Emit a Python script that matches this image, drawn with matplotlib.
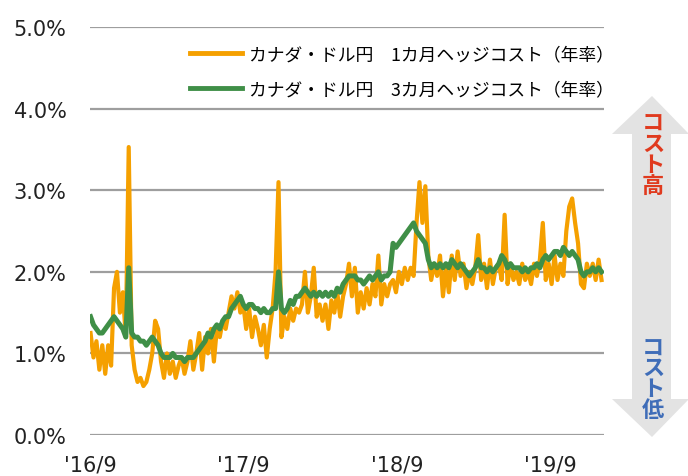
import pandas as pd
import matplotlib.pyplot as plt
from matplotlib.patches import Polygon

plt.rcParams['font.family'] = ['DejaVu Sans', 'Noto Sans CJK JP']

# weekly readings, starting 2016/9/1 (%)
dates = pd.date_range("2016-09-01", periods=175, freq="7D")

hedge_1m = [
    1.25, 0.95, 1.15, 0.80, 1.10, 0.75, 1.10, 0.85, 1.80, 2.00,
    1.50, 1.75, 1.20, 3.53, 1.10, 0.80, 0.65, 0.70, 0.60, 0.65,
    0.80, 1.00, 1.40, 1.30, 0.90, 0.70, 1.00, 0.75, 0.90, 0.70,
    0.85, 0.95, 0.75, 0.90, 1.15, 0.80, 1.00, 1.25, 0.80, 1.20,
    1.00, 1.30, 0.90, 1.30, 1.20, 1.40, 1.30, 1.50, 1.70, 1.55,
    1.75, 1.50, 1.60, 1.30, 1.55, 1.20, 1.45, 1.30, 1.10, 1.35,
    0.95, 1.30, 1.55, 2.00, 3.10, 1.20, 1.45, 1.30, 1.55, 1.40,
    1.55, 1.50, 1.60, 2.00, 1.50, 1.70, 2.05, 1.45, 1.60, 1.40,
    1.60, 1.30, 1.65, 1.50, 1.75, 1.45, 1.70, 1.85, 2.10, 1.70,
    2.05, 1.50, 1.75, 1.55, 1.80, 1.60, 1.85, 1.70, 2.20, 1.60,
    1.85, 1.70, 1.85, 1.90, 1.75, 2.00, 1.85, 2.05, 1.90, 2.05,
    1.95, 2.60, 3.10, 2.60, 3.05, 2.20, 1.90, 2.10, 1.95, 2.20,
    1.70, 2.05, 1.75, 2.20, 1.90, 2.25, 1.95, 2.10, 1.80, 2.00,
    1.85, 2.05, 2.45, 1.90, 2.10, 1.80, 2.15, 1.85, 2.05, 2.10,
    1.90, 2.70, 1.85, 2.10, 1.90, 2.00, 1.85, 2.10, 1.90, 2.00,
    1.85, 2.10, 1.95, 2.15, 2.60, 1.90, 2.10, 1.85, 2.20, 1.90,
    2.10, 1.95, 2.50, 2.80, 2.90, 2.60, 2.35, 1.85, 1.80, 2.10,
    1.95, 2.10, 1.90, 2.15, 1.90,
]

hedge_3m = [
    1.45, 1.35, 1.30, 1.25, 1.25, 1.30, 1.35, 1.40, 1.45, 1.40,
    1.35, 1.30, 1.20, 2.05, 1.25, 1.20, 1.20, 1.15, 1.15, 1.10,
    1.15, 1.20, 1.15, 1.10, 1.00, 0.95, 0.95, 0.95, 1.00, 0.95,
    0.95, 0.95, 0.90, 0.95, 0.95, 0.95, 1.00, 1.05, 1.10, 1.15,
    1.25, 1.20, 1.30, 1.35, 1.30, 1.40, 1.45, 1.45, 1.55, 1.60,
    1.65, 1.70, 1.60, 1.55, 1.60, 1.60, 1.55, 1.55, 1.50, 1.55,
    1.50, 1.50, 1.55, 1.55, 2.00, 1.55, 1.50, 1.55, 1.65, 1.60,
    1.70, 1.70, 1.75, 1.80, 1.75, 1.70, 1.75, 1.70, 1.75, 1.70,
    1.75, 1.70, 1.75, 1.70, 1.80, 1.75, 1.85, 1.90, 1.95, 1.95,
    1.95, 1.90, 1.90, 1.85, 1.90, 1.95, 1.90, 1.95, 2.00, 1.90,
    1.95, 1.95, 2.00, 2.35, 2.30, 2.35, 2.40, 2.45, 2.50, 2.55,
    2.60, 2.50, 2.45, 2.40, 2.35, 2.15, 2.05, 2.10, 2.05, 2.10,
    2.05, 2.10, 2.05, 2.15, 2.10, 2.05, 2.10, 2.05, 2.00, 1.95,
    2.00, 2.05, 2.15, 2.05, 2.05, 2.00, 2.05, 2.00, 2.05, 2.10,
    2.20, 2.15, 2.05, 2.10, 2.05, 2.05, 2.05, 2.00, 2.05, 2.00,
    2.05, 2.05, 2.10, 2.05, 2.15, 2.20, 2.15, 2.20, 2.25, 2.25,
    2.20, 2.30, 2.25, 2.20, 2.25, 2.20, 2.15, 2.00, 1.95, 2.00,
    2.00, 2.05, 2.00, 2.05, 2.00,
]

label_1m = "カナダ・ドル円　1カ月ヘッジコスト（年率）"
label_3m = "カナダ・ドル円　3カ月ヘッジコスト（年率）"

y_ticks = [0, 1, 2, 3, 4, 5]
x_ticks = ["2016-09-01", "2017-09-01", "2018-09-01", "2019-09-01"]
x_labels = ["'16/9", "'17/9", "'18/9", "'19/9"]

fig = plt.figure(figsize=(6.88, 4.77), dpi=100)
ax = fig.add_axes([0.131, 0.086, 0.747, 0.855])

ax.plot(dates, hedge_1m, color="#F5A000", linewidth=3.0, label=label_1m)
ax.plot(dates, hedge_3m, color="#3F8F47", linewidth=3.6, label=label_3m)

ax.set_ylim(0, 5)
ax.set_yticks(y_ticks)
ax.set_yticklabels([f"{v:.1f}%" for v in y_ticks])
ax.set_xlim(pd.Timestamp("2016-08-31"), pd.Timestamp("2020-01-08"))
ax.set_xticks(pd.to_datetime(x_ticks))
ax.set_xticklabels(x_labels)

ax.grid(axis="y", color="#9E9E9E", linewidth=1.6)
ax.set_axisbelow(True)
for s in ax.spines.values():
    s.set_visible(False)
ax.tick_params(axis="y", length=0, pad=17, labelsize=15, labelcolor="#222222")
ax.tick_params(axis="x", length=0, pad=14, labelsize=15, labelcolor="#222222")

leg = ax.legend(loc="upper right", bbox_to_anchor=(1.05, 0.995), frameon=False,
                prop={"family": ["Noto Sans CJK JP"], "size": 12.8},
                handlelength=2.9, handletextpad=0.4, labelspacing=0.95)
for line in leg.get_lines():
    line.set_linewidth(3.5)

# decorative double arrow on the right (figure pixel coords)
ov = fig.add_axes([0, 0, 1, 1], facecolor="none")
ov.set_xlim(0, 688)
ov.set_ylim(477, 0)
ov.axis("off")
arrow = [(652, 97), (689, 135), (671, 135), (671, 400), (689, 400), (652, 438),
         (612, 400), (632, 400), (632, 135), (612, 135)]
ov.add_patch(Polygon(arrow, closed=True, facecolor="#E3E3E3", edgecolor="none"))
ov.text(653, 112, "コ\nス\nト\n高", color="#E03A1E", fontsize=16, ha="center", va="top",
        family=["Noto Sans CJK JP"], fontweight="bold", linespacing=0.88)
ov.text(653, 422, "コ\nス\nト\n低", color="#3F6DB8", fontsize=16, ha="center", va="bottom",
        family=["Noto Sans CJK JP"], fontweight="bold", linespacing=0.88)

fig.savefig("out.png", dpi=100)
